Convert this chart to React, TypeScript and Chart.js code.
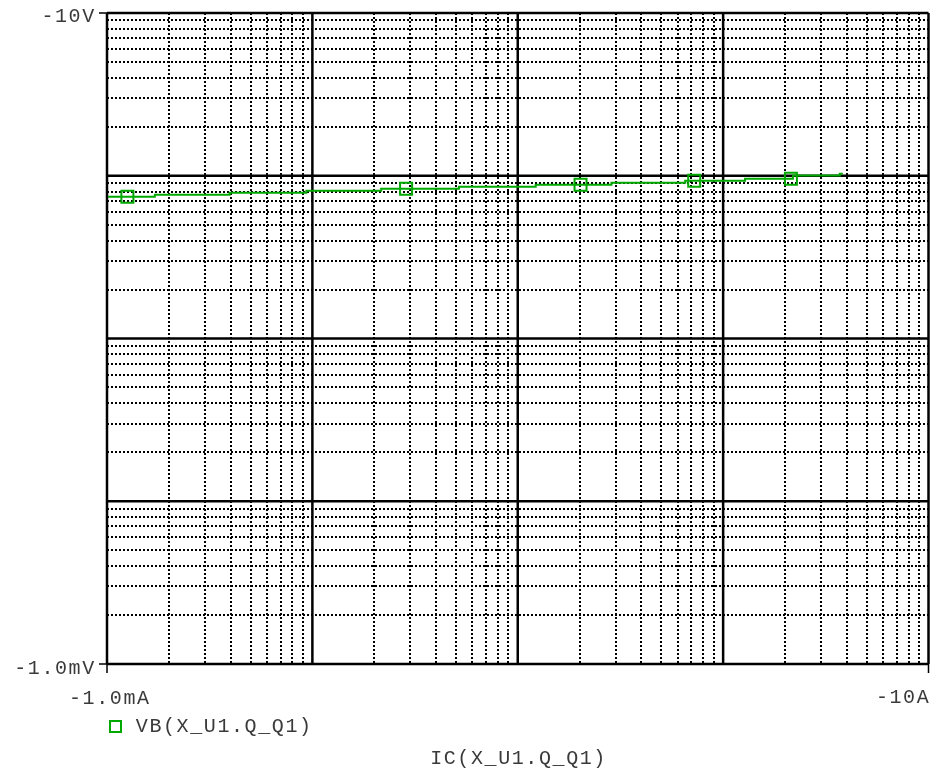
import React, { useEffect, useRef } from 'react';
import { Chart, registerables } from 'chart.js';

Chart.register(...registerables);

// ---- data (magnitudes; axis shows negative values) ----
const currentA = [1.011e-3, 1.71e-3, 3.955e-3, 9.352e-3, 0.02163, 0.05171, 0.1223, 0.286, 0.6537, 1.279, 2.187, 3.698, 3.824];
const vbVolts = [0.7435, 0.7648, 0.7868, 0.8095, 0.8327, 0.8566, 0.881, 0.9064, 0.9324, 0.9592, 1.0036, 1.0294, 1.0294];
const markerA = [1.257e-3, 0.0286, 0.2022, 0.7232, 2.138];
const markerV = [0.7435, 0.8327, 0.881, 0.9324, 0.9592];
const xRange = [1e-3, 10];
const yRange = [1e-3, 10];
const xTickLabels = ['-1.0mA', '-10A'];
const yTickLabels = ['-1.0mV', '-10V'];
const seriesName = 'VB(X_U1.Q_Q1)';
const xTitle = 'IC(X_U1.Q_Q1)';

const GREEN = '#00a800';
const TEXT = '#3a3a3a';
const CELL = 13.6;
const FONT = '20px "Liberation Mono", "DejaVu Sans Mono", monospace';

function drawMono(ctx: CanvasRenderingContext2D, text: string, x0: number, baseline: number) {
  for (let i = 0; i < text.length; i++) {
    ctx.fillText(text[i], x0 + (i + 0.5) * CELL, baseline);
  }
}

const pspicePlugin = {
  id: 'pspice',
  beforeDatasetsDraw(chart: any) {
    const { ctx, chartArea: a, scales } = chart;
    const xs = scales.x;
    const ys = scales.y;
    ctx.save();
    // minor dotted grid
    ctx.strokeStyle = '#000';
    ctx.lineWidth = 2;
    ctx.setLineDash([2, 2]);
    const xe0 = Math.round(Math.log10(xRange[0]));
    const xe1 = Math.round(Math.log10(xRange[1]));
    for (let e = xe0; e < xe1; e++) {
      for (let m = 2; m <= 9; m++) {
        const px = Math.round(xs.getPixelForValue(m * Math.pow(10, e)));
        ctx.beginPath();
        ctx.moveTo(px, a.top);
        ctx.lineTo(px, a.bottom);
        ctx.stroke();
      }
    }
    const ye0 = Math.round(Math.log10(yRange[0]));
    const ye1 = Math.round(Math.log10(yRange[1]));
    for (let e = ye0; e < ye1; e++) {
      for (let m = 2; m <= 9; m++) {
        const py = Math.round(ys.getPixelForValue(m * Math.pow(10, e)));
        ctx.beginPath();
        ctx.moveTo(a.left, py);
        ctx.lineTo(a.right, py);
        ctx.stroke();
      }
    }
    // major solid grid
    ctx.setLineDash([]);
    ctx.lineWidth = 2.5;
    for (let e = xe0; e <= xe1; e++) {
      const px = xs.getPixelForValue(Math.pow(10, e));
      ctx.beginPath();
      ctx.moveTo(px, a.top);
      ctx.lineTo(px, a.bottom);
      ctx.stroke();
    }
    for (let e = ye0; e <= ye1; e++) {
      const py = ys.getPixelForValue(Math.pow(10, e));
      ctx.beginPath();
      ctx.moveTo(a.left, py);
      ctx.lineTo(a.right, py);
      ctx.stroke();
    }
    // end ticks
    ctx.lineWidth = 1.5;
    const yTop = ys.getPixelForValue(yRange[1]);
    const yBot = ys.getPixelForValue(yRange[0]);
    const xL = xs.getPixelForValue(xRange[0]);
    const xR = xs.getPixelForValue(xRange[1]);
    ctx.beginPath();
    ctx.moveTo(a.left - 8, yTop); ctx.lineTo(a.left, yTop);
    ctx.moveTo(a.left - 8, yBot); ctx.lineTo(a.left, yBot);
    ctx.moveTo(xL, a.bottom); ctx.lineTo(xL, a.bottom + 9);
    ctx.moveTo(xR, a.bottom); ctx.lineTo(xR, a.bottom + 9);
    ctx.stroke();
    ctx.restore();
  },
  afterDraw(chart: any) {
    const { ctx, chartArea: a, scales } = chart;
    const xs = scales.x;
    const ys = scales.y;
    ctx.save();
    ctx.font = FONT;
    ctx.fillStyle = TEXT;
    ctx.textAlign = 'center';
    ctx.textBaseline = 'alphabetic';
    const yTop = ys.getPixelForValue(yRange[1]);
    const yBot = ys.getPixelForValue(yRange[0]);
    const right = a.left - 12;
    drawMono(ctx, yTickLabels[1], right - yTickLabels[1].length * CELL, yTop + 9);
    drawMono(ctx, yTickLabels[0], right - yTickLabels[0].length * CELL, yBot + 10);
    const xL = xs.getPixelForValue(xRange[0]);
    const xR = xs.getPixelForValue(xRange[1]);
    drawMono(ctx, xTickLabels[0], xL + 2 - (xTickLabels[0].length * CELL) / 2, a.bottom + 40);
    drawMono(ctx, xTickLabels[1], xR + 1 - xTickLabels[1].length * CELL, a.bottom + 39);
    // legend
    ctx.strokeStyle = GREEN;
    ctx.lineWidth = 2;
    ctx.strokeRect(110, a.bottom + 57, 11, 11);
    drawMono(ctx, seriesName, 135, a.bottom + 68);
    // x title
    const cx = (a.left + a.right) / 2;
    drawMono(ctx, xTitle, cx - (xTitle.length * CELL) / 2, a.bottom + 100);
    ctx.restore();
  },
};

export default function App() {
  const ref = useRef<HTMLCanvasElement>(null);
  useEffect(() => {
    if (!ref.current) return;
    const chart = new Chart(ref.current, {
      type: 'line',
      data: {
        datasets: [
          {
            label: seriesName,
            data: currentA.map((x, i) => ({ x, y: vbVolts[i] })),
            borderColor: GREEN,
            borderWidth: 2,
            stepped: 'before',
            pointRadius: 0,
            fill: false,
          },
          {
            label: seriesName + ' markers',
            data: markerA.map((x, i) => ({ x, y: markerV[i] })),
            showLine: false,
            pointStyle: 'rect',
            pointRadius: 8.5,
            pointBorderWidth: 2,
            pointBorderColor: GREEN,
            pointBackgroundColor: 'rgba(0,0,0,0)',
          },
        ],
      },
      options: {
        responsive: false,
        animation: false,
        devicePixelRatio: 1,
        layout: { padding: { left: 107, top: 13, right: 8, bottom: 111 } },
        plugins: { legend: { display: false }, tooltip: { enabled: false } },
        scales: {
          x: { type: 'logarithmic', min: xRange[0], max: xRange[1], display: false },
          y: { type: 'logarithmic', min: yRange[0], max: yRange[1], display: false },
        },
      },
      plugins: [pspicePlugin],
    } as any);
    return () => chart.destroy();
  }, []);
  return (
    <div style={{ position: 'absolute', left: 0, top: 0, width: 939, height: 775, background: '#fff' }}>
      <canvas ref={ref} width={939} height={775} style={{ display: 'block' }} />
    </div>
  );
}
